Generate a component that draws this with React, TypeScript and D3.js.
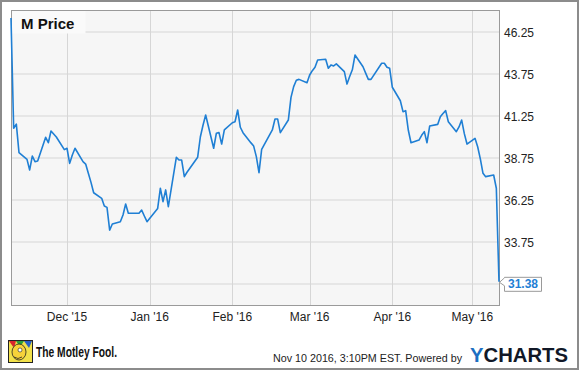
import React from 'react';
import * as d3 from 'd3';

// M price, Nov 2015 - May 2016
const dates = [
  '2015-11-10', '2015-11-11', '2015-11-12', '2015-11-13', '2015-11-16', '2015-11-17', '2015-11-18', '2015-11-19', '2015-11-20',
  '2015-11-23', '2015-11-24', '2015-11-25', '2015-11-27', '2015-11-30', '2015-12-01', '2015-12-02', '2015-12-03', '2015-12-04',
  '2015-12-07', '2015-12-08', '2015-12-09', '2015-12-10', '2015-12-11', '2015-12-14', '2015-12-15', '2015-12-16', '2015-12-17',
  '2015-12-18', '2015-12-21', '2015-12-22', '2015-12-23', '2015-12-24', '2015-12-28', '2015-12-29', '2015-12-30', '2015-12-31',
  '2016-01-04', '2016-01-05', '2016-01-06', '2016-01-07', '2016-01-08', '2016-01-11', '2016-01-12', '2016-01-13', '2016-01-14',
  '2016-01-15', '2016-01-19', '2016-01-20', '2016-01-21', '2016-01-22', '2016-01-25', '2016-01-26', '2016-01-27', '2016-01-28',
  '2016-01-29', '2016-02-01', '2016-02-02', '2016-02-03', '2016-02-04', '2016-02-05', '2016-02-08', '2016-02-09', '2016-02-10',
  '2016-02-11', '2016-02-12', '2016-02-16', '2016-02-17', '2016-02-18', '2016-02-19', '2016-02-22', '2016-02-23', '2016-02-24',
  '2016-02-25', '2016-02-26', '2016-02-29', '2016-03-01', '2016-03-02', '2016-03-03', '2016-03-04', '2016-03-07', '2016-03-08',
  '2016-03-09', '2016-03-10', '2016-03-11', '2016-03-14', '2016-03-15', '2016-03-16', '2016-03-17', '2016-03-18', '2016-03-21',
  '2016-03-22', '2016-03-23', '2016-03-24', '2016-03-28', '2016-03-29', '2016-03-30', '2016-03-31', '2016-04-01', '2016-04-04',
  '2016-04-05', '2016-04-06', '2016-04-07', '2016-04-08', '2016-04-11', '2016-04-12', '2016-04-13', '2016-04-14', '2016-04-15',
  '2016-04-18', '2016-04-19', '2016-04-20', '2016-04-21', '2016-04-22', '2016-04-25', '2016-04-26', '2016-04-27', '2016-04-28',
  '2016-04-29', '2016-05-02', '2016-05-03', '2016-05-04', '2016-05-05', '2016-05-06', '2016-05-09', '2016-05-10', '2016-05-11',
];

const prices = [
  47.08, 40.52, 40.77, 39.07, 38.67, 38.04, 38.87, 38.53, 38.57,
  39.98, 39.66, 40.36, 40.0, 39.25, 39.33, 38.43, 38.93, 39.33,
  38.53, 38.39, 37.84, 37.3, 36.68, 36.35, 35.89, 35.81, 34.46,
  34.82, 34.96, 35.36, 36.01, 35.46, 35.46, 35.65, 35.3, 34.96,
  35.75, 36.95, 36.15, 36.85, 35.85, 38.79, 38.63, 38.63, 37.64,
  37.9, 38.8, 40.0, 40.7, 41.31, 39.33, 40.22, 40.26, 39.58,
  40.42, 40.85, 40.91, 41.61, 40.58, 40.26, 39.65, 39.46, 38.83,
  37.88, 39.27, 40.42, 41.07, 41.07, 40.26, 41.01, 42.36, 43.0,
  43.38, 43.43, 43.23, 43.69, 43.95, 44.15, 44.58, 44.63, 44.09,
  44.29, 44.23, 44.35, 43.89, 43.15, 43.6, 44.0, 44.88, 44.18,
  43.8, 43.43, 43.43, 44.39, 44.39, 44.15, 44.09, 42.96, 42.16,
  41.51, 41.57, 40.4, 39.66, 39.82, 40.1, 40.32, 39.66, 40.65,
  40.75, 41.21, 41.4, 41.57, 40.91, 40.32, 40.6, 41.01, 40.2,
  39.58, 39.92, 39.42, 38.7, 37.84, 37.64, 37.74, 36.95, 31.38,
];

const yTicks = [31.25, 33.75, 36.25, 38.75, 41.25, 43.75, 46.25];
const xTicks = ['2015-12-01', '2016-01-01', '2016-02-01', '2016-03-01', '2016-04-01', '2016-05-01'];

const seriesName = 'M Price';
const lastLabel = '31.38';
const stamp = 'Nov 10 2016, 3:10PM EST. Powered by';

const W = 580;
const H = 371;
const plot = { left: 11, right: 499, top: 10, bottom: 305 };
const font = 'Arial, "Liberation Sans", sans-serif';
const lineColor = '#1f7fd4';

export default function App() {
  const parse = d3.timeParse('%Y-%m-%d');
  const data = dates.map((d, i) => ({ date: parse(d) as Date, value: prices[i] }));
  const fmt = d3.timeFormat("%b '%y");

  const x = d3
    .scaleTime()
    .domain([data[0].date, data[data.length - 1].date])
    .range([plot.left, plot.right]);

  const y = d3.scaleLinear().domain([30.0, 47.56]).range([plot.bottom, plot.top]);

  const line = d3
    .line<{ date: Date; value: number }>()
    .x((d) => x(d.date))
    .y((d) => y(d.value));

  const last = data[data.length - 1];
  const lx = x(last.date);
  const ly = y(last.value);

  return (
    <svg
      width={W}
      height={H}
      style={{ position: 'absolute', left: 0, top: 0, display: 'block', fontFamily: font }}
    >
      <rect x={0} y={0} width={W} height={H} fill="#fff" />
      <rect x={1} y={1} width={W - 3} height={H - 3} fill="none" stroke="#8c8c8c" strokeWidth={2} />

      {/* plot background */}
      <rect
        x={plot.left}
        y={plot.top}
        width={plot.right - plot.left}
        height={plot.bottom - plot.top}
        fill="#f6f6f6"
      />

      {/* grid */}
      {yTicks.map((t) => (
        <line key={'gy' + t} x1={plot.left} x2={plot.right} y1={y(t)} y2={y(t)} stroke="#d6d6d6" strokeWidth={1} />
      ))}
      {xTicks.map((t) => {
        const xx = Math.round(x(parse(t) as Date)) + 0.5;
        return <line key={'gx' + t} x1={xx} x2={xx} y1={plot.top} y2={plot.bottom} stroke="#d6d6d6" strokeWidth={1} />;
      })}

      {/* legend box */}
      <rect x={plot.left + 0.5} y={plot.top + 0.5} width={74} height={23} fill="#fafafa" />
      <text x={21} y={29} fontSize={15} fontWeight="bold" fill="#111">
        {seriesName}
      </text>

      <rect
        x={plot.left + 0.5}
        y={plot.top + 0.5}
        width={plot.right - plot.left}
        height={plot.bottom - plot.top}
        fill="none"
        stroke="#9a9a9a"
        strokeWidth={1}
      />

      <path d={line(data) || ''} fill="none" stroke={lineColor} strokeWidth={1.6} strokeLinejoin="round" />

      {/* right axis */}
      {yTicks
        .filter((t) => t !== 31.25)
        .map((t) => (
          <text key={'ty' + t} x={504} y={y(t) + 4.5} fontSize={12} fill="#222">
            {t.toFixed(2)}
          </text>
        ))}

      {/* x axis */}
      {xTicks.map((t) => (
        <text key={'tx' + t} x={x(parse(t) as Date)} y={321} fontSize={12} fill="#222" textAnchor="middle">
          {fmt(parse(t) as Date)}
        </text>
      ))}

      {/* last value callout */}
      <path
        d={`M${lx + 5.5},${ly - 4} L${lx + 5.5},${ly - 4.5} L${lx + 42.5},${ly - 4.5} L${lx + 42.5},${ly + 9.5} L${lx + 5.5},${ly + 9.5} L${lx + 5.5},${ly + 4} L${lx + 0.5},${ly + 0.5} Z`}
        fill="#fff"
        stroke="#9a9a9a"
        strokeWidth={1}
      />
      <text x={lx + 9} y={ly + 6} fontSize={12} fontWeight="bold" fill={lineColor}>
        {lastLabel}
      </text>

      {/* footer: Motley Fool */}
      <g>
        <rect x={8.5} y={340.5} width={24} height={22} fill="#f2e14a" stroke="#222" strokeWidth={1} />
        <path d="M9,341 L16,341 L14,348 Z" fill="#d8262c" />
        <path d="M16,341 L24,341 L20,347 Z" fill="#2a9d3a" />
        <path d="M24,341 L32,341 L29,348 Z" fill="#2a5fc4" />
        <ellipse cx={19} cy={352} rx={7} ry={8} fill="#f7d23a" stroke="#222" strokeWidth={0.8} />
        <circle cx={20} cy={350} r={2} fill="#fff" stroke="#222" strokeWidth={0.6} />
        <path d="M14,357 Q18,360 22,357" fill="none" stroke="#222" strokeWidth={0.8} />
      </g>
      <text x={36} y={357} fontSize={14} fontWeight="bold" fill="#111" textLength={81} lengthAdjust="spacingAndGlyphs">
        The Motley Fool.
      </text>

      {/* footer: stamp + YCharts */}
      <text x={273} y={362} fontSize={11} fill="#222" textLength={189} lengthAdjust="spacingAndGlyphs">
        {stamp}
      </text>
      <text x={470} y={362} fontSize={21} fontWeight="bold" textLength={98} lengthAdjust="spacingAndGlyphs">
        <tspan fill="#1d6fc2">Y</tspan>
        <tspan fill="#111827">CHARTS</tspan>
      </text>
    </svg>
  );
}
